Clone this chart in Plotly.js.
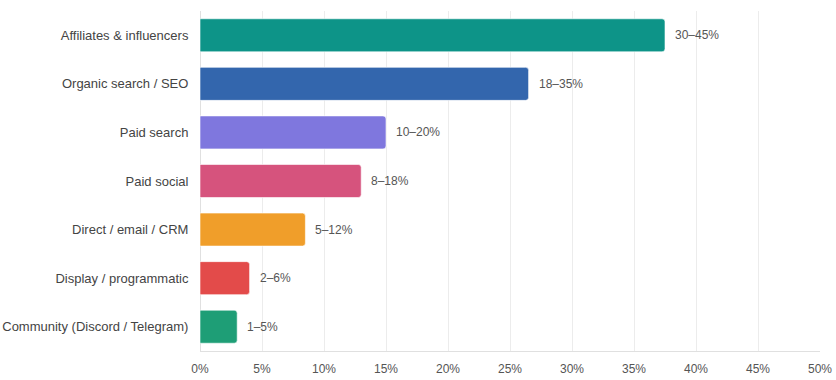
<!DOCTYPE html>
<html>
<head>
<meta charset="utf-8">
<script src="https://cdn.plot.ly/plotly-3.0.1.min.js"></script>
<style>html,body{margin:0;padding:0;background:#fff;}#chart{width:836px;height:380px;}</style>
</head>
<body>
<div id="chart"></div>
<script>
const channels = ["Affiliates & influencers","Organic search / SEO","Paid search","Paid social","Direct / email / CRM","Display / programmatic","Community (Discord / Telegram)"];
const lowPct = [30,18,10,8,5,2,1];
const highPct = [45,35,20,18,12,6,5];
const rangeLabels = ["30–45%","18–35%","10–20%","8–18%","5–12%","2–6%","1–5%"];
const barColors = ["#0d9488","#3366ad","#7f77de","#d6537d","#f09e2a","#e34b4a","#1e9e76"];
const midPct = lowPct.map((l,i)=>(l+highPct[i])/2);

const trace = {
  type:'bar', orientation:'h',
  y: channels, x: midPct,
  marker:{color:barColors, cornerradius:3, line:{color:'rgba(255,255,255,0.6)', width:1}},
  hoverinfo:'none'
};
const annotations = channels.map((c,i)=>({
  x: midPct[i], y: c, xref:'x', yref:'y', text: rangeLabels[i],
  showarrow:false, xanchor:'left', yanchor:'middle', xshift:8,
  font:{family:'Liberation Sans, Arial, sans-serif', size:12, color:'#555'}
}));
const layout = {
  width:836, height:380,
  margin:{l:200, r:16, t:11, b:29},
  paper_bgcolor:'#fff', plot_bgcolor:'#fff',
  bargap:0.32,
  showlegend:false,
  annotations: annotations,
  font:{family:'Liberation Sans, Arial, sans-serif', size:12, color:'#555'},
  xaxis:{range:[0,50], dtick:5, ticksuffix:'%', showgrid:true, gridcolor:'#ececec', gridwidth:1,
         zeroline:true, zerolinecolor:'#e0e0e0', zerolinewidth:1, showline:true, linecolor:'#e0e0e0', linewidth:1,
         tickfont:{size:12, color:'#555'}, ticks:'outside', ticklen:7, tickcolor:'rgba(0,0,0,0)', fixedrange:true},
  yaxis:{autorange:'reversed', showgrid:false, zeroline:false, ticks:'outside', ticklen:8, tickcolor:'rgba(0,0,0,0)',
         tickfont:{size:13, color:'#444'}, automargin:false}
};
Plotly.newPlot('chart',[trace],layout,{displayModeBar:false, staticPlot:true});
</script>
</body>
</html>
